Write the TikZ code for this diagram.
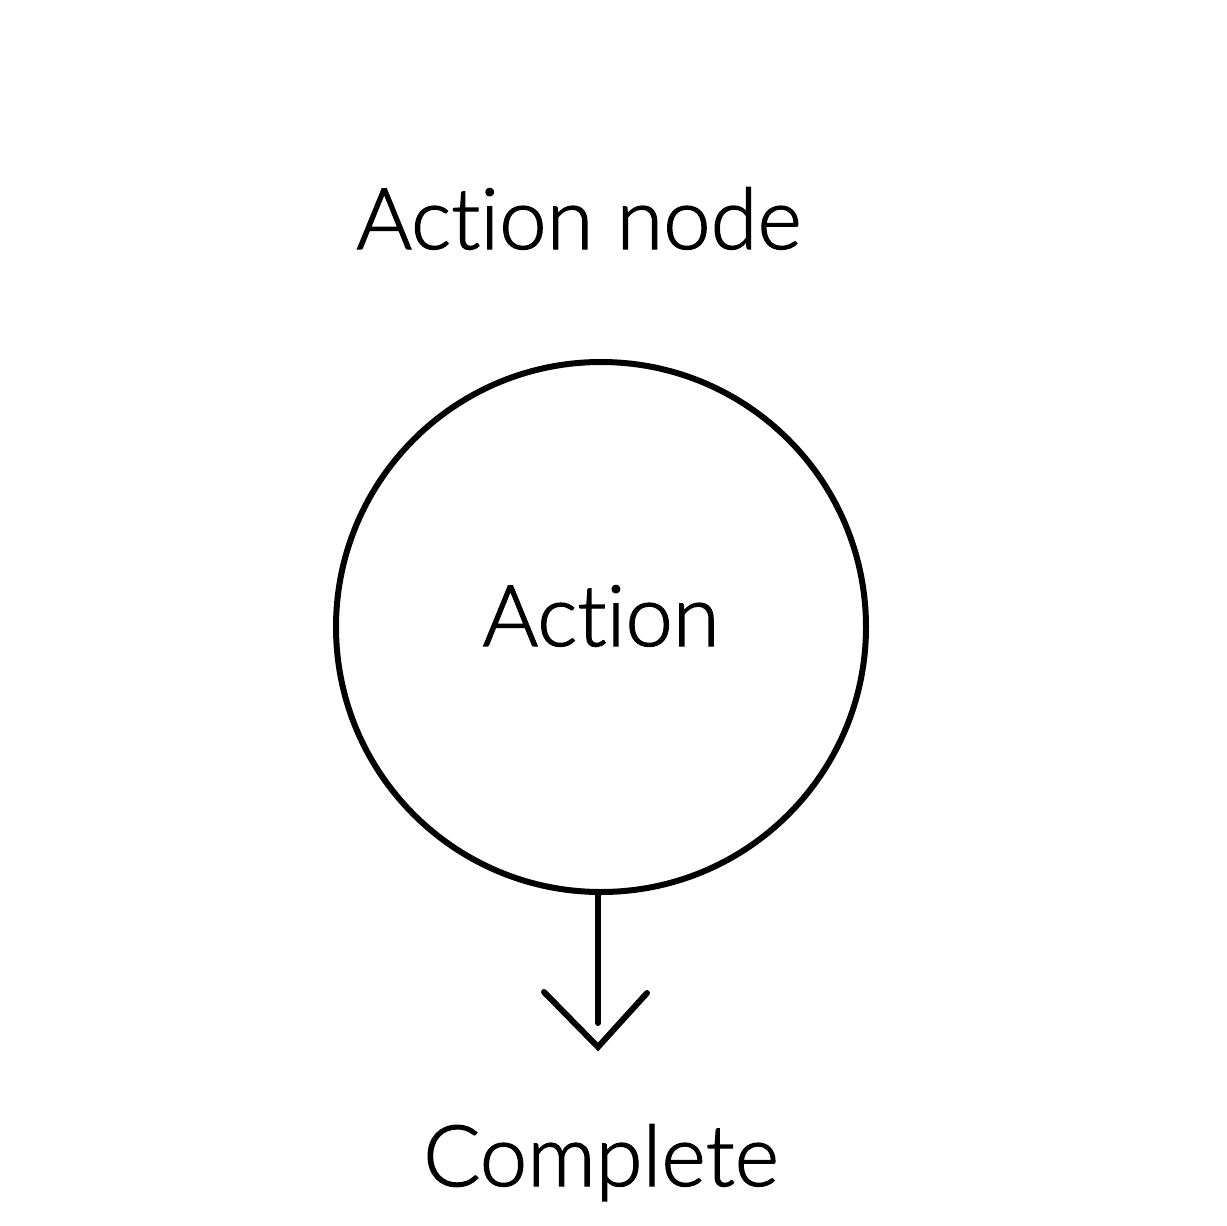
\documentclass[tikz,border=0pt]{standalone}
\usepackage{fontspec}
\setmainfont{Lato}[UprightFont=* Light, BoldFont=* Light, BoldFeatures={FakeBold=1.5}, Ligatures={NoCommon,NoRare,NoContextual}]
\begin{document}
\begin{tikzpicture}[x=0.5pt,y=-0.5pt,
  lbl/.style={inner sep=0pt, font=\fontsize{42.5}{50}\selectfont\bfseries},
  ln/.style={line width=3pt, line cap=round, line join=miter}]
\useasboundingbox (0,0) rectangle (1227,1226);
\node[lbl, anchor=base] (title) at (579,249) {Action node};
\node[ln, draw, circle, minimum size=265pt, inner sep=0pt] (act) at (601,627) {};
\node[lbl, anchor=base] (acttxt) at (601,646) {Action};
\coordinate (shaftend) at (598,1023);
\coordinate (tip) at (598,1047);
\coordinate (tl) at (544,992);
\coordinate (tr) at (647,993);
\draw[ln] (act.south -| shaftend) -- (shaftend);
\draw[ln] (tl) -- (tip) -- (tr);
\node[lbl, anchor=base] (done) at (601,1186) {Complete};
\end{tikzpicture}
\end{document}
